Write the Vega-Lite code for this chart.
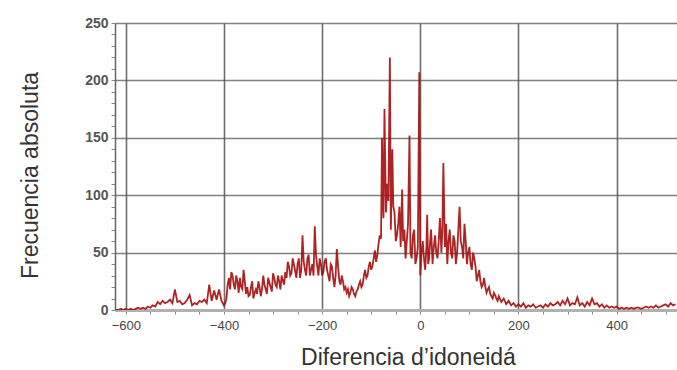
{
  "$schema": "https://vega.github.io/schema/vega-lite/v6.json",
  "width": 562,
  "height": 287,
  "autosize": {"type": "none"},
  "padding": {"left": 115, "top": 23, "right": 0, "bottom": 60},
  "background": "white",
  "config": {
    "view": {"stroke": null},
    "font": "Liberation Sans"
  },
  "data": {
    "values": [
      {"d": -620, "f": 0}, {"d": -615, "f": 0}, {"d": -610, "f": 1}, {"d": -605, "f": 0}, {"d": -600, "f": 1},
      {"d": -595, "f": 0}, {"d": -590, "f": 1}, {"d": -585, "f": 0}, {"d": -580, "f": 1}, {"d": -575, "f": 2},
      {"d": -570, "f": 1}, {"d": -565, "f": 2}, {"d": -560, "f": 1}, {"d": -555, "f": 3}, {"d": -550, "f": 2},
      {"d": -545, "f": 4}, {"d": -540, "f": 3}, {"d": -535, "f": 7}, {"d": -530, "f": 5}, {"d": -525, "f": 8},
      {"d": -520, "f": 6}, {"d": -515, "f": 7}, {"d": -510, "f": 9}, {"d": -505, "f": 6}, {"d": -500, "f": 18},
      {"d": -495, "f": 7}, {"d": -490, "f": 8}, {"d": -485, "f": 5}, {"d": -480, "f": 6}, {"d": -475, "f": 9},
      {"d": -470, "f": 13}, {"d": -465, "f": 4}, {"d": -460, "f": 6}, {"d": -455, "f": 5}, {"d": -450, "f": 8},
      {"d": -445, "f": 7}, {"d": -440, "f": 9}, {"d": -435, "f": 6}, {"d": -430, "f": 22}, {"d": -425, "f": 8},
      {"d": -420, "f": 17}, {"d": -415, "f": 9}, {"d": -410, "f": 18}, {"d": -405, "f": 8}, {"d": -400, "f": 4},
      {"d": -395, "f": 10}, {"d": -390, "f": 28}, {"d": -385, "f": 33}, {"d": -380, "f": 22}, {"d": -375, "f": 30},
      {"d": -370, "f": 15}, {"d": -365, "f": 20}, {"d": -360, "f": 35}, {"d": -355, "f": 14}, {"d": -350, "f": 12},
      {"d": -345, "f": 20}, {"d": -340, "f": 10}, {"d": -335, "f": 18}, {"d": -330, "f": 25}, {"d": -325, "f": 12},
      {"d": -320, "f": 30}, {"d": -315, "f": 18}, {"d": -310, "f": 28}, {"d": -305, "f": 20}, {"d": -300, "f": 32},
      {"d": -295, "f": 22}, {"d": -290, "f": 30}, {"d": -285, "f": 18}, {"d": -280, "f": 26}, {"d": -275, "f": 33},
      {"d": -270, "f": 42}, {"d": -265, "f": 30}, {"d": -260, "f": 45}, {"d": -255, "f": 34}, {"d": -250, "f": 40},
      {"d": -245, "f": 28}, {"d": -240, "f": 65}, {"d": -235, "f": 35}, {"d": -230, "f": 45}, {"d": -225, "f": 30},
      {"d": -220, "f": 40}, {"d": -215, "f": 73}, {"d": -210, "f": 38}, {"d": -205, "f": 45}, {"d": -200, "f": 30},
      {"d": -195, "f": 42}, {"d": -190, "f": 35}, {"d": -185, "f": 25}, {"d": -180, "f": 38}, {"d": -175, "f": 20},
      {"d": -170, "f": 53}, {"d": -165, "f": 25}, {"d": -160, "f": 30}, {"d": -155, "f": 18}, {"d": -150, "f": 15},
      {"d": -145, "f": 12}, {"d": -140, "f": 20}, {"d": -135, "f": 14}, {"d": -130, "f": 16}, {"d": -125, "f": 22},
      {"d": -120, "f": 20}, {"d": -115, "f": 30}, {"d": -110, "f": 28}, {"d": -105, "f": 38}, {"d": -100, "f": 35},
      {"d": -95, "f": 45}, {"d": -90, "f": 42}, {"d": -85, "f": 58}, {"d": -80, "f": 62}, {"d": -78, "f": 150},
      {"d": -75, "f": 80}, {"d": -73, "f": 175}, {"d": -70, "f": 85}, {"d": -65, "f": 95}, {"d": -62, "f": 220},
      {"d": -60, "f": 70}, {"d": -57, "f": 140}, {"d": -55, "f": 90}, {"d": -50, "f": 60}, {"d": -45, "f": 75},
      {"d": -40, "f": 55}, {"d": -37, "f": 105}, {"d": -35, "f": 60}, {"d": -30, "f": 45}, {"d": -25, "f": 75},
      {"d": -22, "f": 152}, {"d": -20, "f": 50}, {"d": -15, "f": 65}, {"d": -10, "f": 40}, {"d": -5, "f": 55},
      {"d": -2, "f": 207}, {"d": 0, "f": 30}, {"d": 5, "f": 60}, {"d": 10, "f": 35}, {"d": 14, "f": 83},
      {"d": 18, "f": 45}, {"d": 22, "f": 70}, {"d": 25, "f": 40}, {"d": 30, "f": 65}, {"d": 35, "f": 45},
      {"d": 40, "f": 80}, {"d": 43, "f": 50}, {"d": 47, "f": 128}, {"d": 50, "f": 55}, {"d": 55, "f": 40},
      {"d": 60, "f": 70}, {"d": 65, "f": 45}, {"d": 70, "f": 60}, {"d": 75, "f": 50}, {"d": 80, "f": 90},
      {"d": 85, "f": 55}, {"d": 90, "f": 75}, {"d": 95, "f": 40}, {"d": 100, "f": 55}, {"d": 105, "f": 35},
      {"d": 110, "f": 45}, {"d": 115, "f": 25}, {"d": 120, "f": 35}, {"d": 125, "f": 20}, {"d": 130, "f": 28},
      {"d": 135, "f": 15}, {"d": 140, "f": 20}, {"d": 145, "f": 12}, {"d": 150, "f": 15}, {"d": 155, "f": 10},
      {"d": 160, "f": 12}, {"d": 165, "f": 7}, {"d": 170, "f": 10}, {"d": 175, "f": 5}, {"d": 180, "f": 8},
      {"d": 185, "f": 4}, {"d": 190, "f": 6}, {"d": 195, "f": 3}, {"d": 200, "f": 5}, {"d": 205, "f": 3},
      {"d": 210, "f": 6}, {"d": 215, "f": 2}, {"d": 220, "f": 4}, {"d": 225, "f": 3}, {"d": 230, "f": 5},
      {"d": 235, "f": 2}, {"d": 240, "f": 3}, {"d": 245, "f": 4}, {"d": 250, "f": 2}, {"d": 255, "f": 5},
      {"d": 260, "f": 3}, {"d": 265, "f": 6}, {"d": 270, "f": 4}, {"d": 275, "f": 5}, {"d": 280, "f": 7},
      {"d": 285, "f": 4}, {"d": 290, "f": 8}, {"d": 295, "f": 5}, {"d": 300, "f": 10}, {"d": 305, "f": 4},
      {"d": 310, "f": 6}, {"d": 315, "f": 5}, {"d": 320, "f": 11}, {"d": 325, "f": 4}, {"d": 330, "f": 6},
      {"d": 335, "f": 3}, {"d": 340, "f": 7}, {"d": 345, "f": 4}, {"d": 350, "f": 10}, {"d": 355, "f": 5},
      {"d": 360, "f": 6}, {"d": 365, "f": 3}, {"d": 370, "f": 5}, {"d": 375, "f": 2}, {"d": 380, "f": 4},
      {"d": 385, "f": 2}, {"d": 390, "f": 3}, {"d": 395, "f": 2}, {"d": 400, "f": 3}, {"d": 405, "f": 1},
      {"d": 410, "f": 2}, {"d": 415, "f": 1}, {"d": 420, "f": 2}, {"d": 425, "f": 1}, {"d": 430, "f": 2},
      {"d": 435, "f": 1}, {"d": 440, "f": 2}, {"d": 445, "f": 2}, {"d": 450, "f": 1}, {"d": 455, "f": 2},
      {"d": 460, "f": 3}, {"d": 465, "f": 2}, {"d": 470, "f": 3}, {"d": 475, "f": 2}, {"d": 480, "f": 4},
      {"d": 485, "f": 2}, {"d": 490, "f": 3}, {"d": 495, "f": 4}, {"d": 500, "f": 5}, {"d": 505, "f": 3},
      {"d": 510, "f": 6}, {"d": 515, "f": 4}, {"d": 520, "f": 5},
      {"d": -397.5, "f": 6}, {"d": -392.5, "f": 22}, {"d": -387.5, "f": 18}, {"d": -382.5, "f": 30}, {"d": -377.5, "f": 18},
      {"d": -372.5, "f": 25}, {"d": -367.5, "f": 28}, {"d": -362.5, "f": 18}, {"d": -357.5, "f": 25}, {"d": -352.5, "f": 20},
      {"d": -347.5, "f": 13}, {"d": -342.5, "f": 25}, {"d": -337.5, "f": 15}, {"d": -332.5, "f": 14}, {"d": -327.5, "f": 20},
      {"d": -322.5, "f": 18}, {"d": -317.5, "f": 22}, {"d": -312.5, "f": 14}, {"d": -307.5, "f": 24}, {"d": -302.5, "f": 16},
      {"d": -297.5, "f": 28}, {"d": -292.5, "f": 20}, {"d": -287.5, "f": 25}, {"d": -282.5, "f": 30}, {"d": -277.5, "f": 22},
      {"d": -272.5, "f": 28}, {"d": -267.5, "f": 38}, {"d": -262.5, "f": 32}, {"d": -257.5, "f": 40}, {"d": -252.5, "f": 28},
      {"d": -247.5, "f": 45}, {"d": -242.5, "f": 35}, {"d": -237.5, "f": 42}, {"d": -232.5, "f": 30}, {"d": -227.5, "f": 48},
      {"d": -222.5, "f": 35}, {"d": -217.5, "f": 30}, {"d": -212.5, "f": 48}, {"d": -207.5, "f": 30}, {"d": -202.5, "f": 40},
      {"d": -197.5, "f": 33}, {"d": -192.5, "f": 45}, {"d": -187.5, "f": 30}, {"d": -182.5, "f": 40}, {"d": -177.5, "f": 28},
      {"d": -172.5, "f": 30}, {"d": -167.5, "f": 38}, {"d": -162.5, "f": 22}, {"d": -157.5, "f": 25}, {"d": -152.5, "f": 20},
      {"d": -147.5, "f": 18}, {"d": -142.5, "f": 15}, {"d": -137.5, "f": 18}, {"d": -132.5, "f": 12}, {"d": -127.5, "f": 18},
      {"d": -122.5, "f": 25}, {"d": -117.5, "f": 22}, {"d": -112.5, "f": 35}, {"d": -107.5, "f": 30}, {"d": -102.5, "f": 42},
      {"d": -97.5, "f": 38}, {"d": -92.5, "f": 52}, {"d": -87.5, "f": 48}, {"d": -82.5, "f": 65}, {"d": -76, "f": 90},
      {"d": -67.5, "f": 110}, {"d": -52.5, "f": 85}, {"d": -47.5, "f": 65}, {"d": -42.5, "f": 90}, {"d": -32.5, "f": 70},
      {"d": -27.5, "f": 60}, {"d": -17.5, "f": 45}, {"d": -12.5, "f": 70}, {"d": -7.5, "f": 45}, {"d": 2.5, "f": 50},
      {"d": 7.5, "f": 45}, {"d": 12.5, "f": 55}, {"d": 16, "f": 40}, {"d": 20, "f": 60}, {"d": 27.5, "f": 55},
      {"d": 32.5, "f": 50}, {"d": 37.5, "f": 60}, {"d": 45, "f": 70}, {"d": 52.5, "f": 75}, {"d": 57.5, "f": 60},
      {"d": 62.5, "f": 50}, {"d": 67.5, "f": 65}, {"d": 72.5, "f": 40}, {"d": 77.5, "f": 70}, {"d": 82.5, "f": 60},
      {"d": 87.5, "f": 45}, {"d": 92.5, "f": 60}, {"d": 97.5, "f": 50}, {"d": 102.5, "f": 40}, {"d": 107.5, "f": 50},
      {"d": 112.5, "f": 38}, {"d": 117.5, "f": 30}, {"d": 122.5, "f": 25}, {"d": 127.5, "f": 22}, {"d": 132.5, "f": 20},
      {"d": 137.5, "f": 18}, {"d": 142.5, "f": 14}, {"d": 147.5, "f": 10}, {"d": 152.5, "f": 13}, {"d": 157.5, "f": 8}
    ]
  },
  "mark": {"type": "line", "color": "#a50c0c", "strokeWidth": 1.8, "opacity": 0.9, "clip": true},
  "encoding": {
    "x": {
      "field": "d",
      "type": "quantitative",
      "scale": {"domain": [-622, 523], "nice": false, "zero": false},
      "axis": {
        "values": [-600, -550, -500, -450, -400, -350, -300, -250, -200, -150, -100, -50, 0, 50, 100, 150, 200, 250, 300, 350, 400, 450, 500],
        "labelExpr": "datum.value % 200 === 0 ? datum.label : ''",
        "grid": true,
        "gridColor": "#555555",
        "gridWidth": 1.6,
        "gridOpacity": {"condition": {"test": "datum.value % 200 === 0", "value": 0.85}, "value": 0},
        "domainColor": "#b0b0b0",
        "domainWidth": 3,
        "tickColor": "#888888",
        "tickSize": 4,
        "labelFontSize": 13,
        "labelColor": "#444444",
        "labelPadding": 5,
        "title": "Diferencia d’idoneidá",
        "titleFontSize": 23,
        "titleFontWeight": "normal",
        "titleColor": "#333333",
        "titleX": 293,
        "titleY": 54,
        "titleAlign": "center",
        "titleBaseline": "alphabetic"
      }
    },
    "y": {
      "field": "f",
      "type": "quantitative",
      "scale": {"domain": [0, 250], "nice": false},
      "axis": {
        "values": [0, 10, 20, 30, 40, 50, 60, 70, 80, 90, 100, 110, 120, 130, 140, 150, 160, 170, 180, 190, 200, 210, 220, 230, 240, 250],
        "labelExpr": "datum.value % 50 === 0 ? datum.label : ''",
        "grid": true,
        "gridColor": "#555555",
        "gridWidth": 1.3,
        "gridOpacity": {"condition": {"test": "datum.value % 50 === 0 && datum.value > 0", "value": 0.75}, "value": 0},
        "domainColor": "#666666",
        "domainWidth": 1.5,
        "tickColor": "#888888",
        "tickSize": 4,
        "labelFontSize": 14,
        "labelFontWeight": "bold",
        "labelColor": "#555555",
        "labelPadding": 3,
        "title": "Frecuencia absoluta",
        "titleFontSize": 23,
        "titleFontWeight": "normal",
        "titleColor": "#333333",
        "titleAngle": -90,
        "titleX": -73,
        "titleY": 152,
        "titleAlign": "center",
        "titleBaseline": "bottom"
      }
    }
  }
}
